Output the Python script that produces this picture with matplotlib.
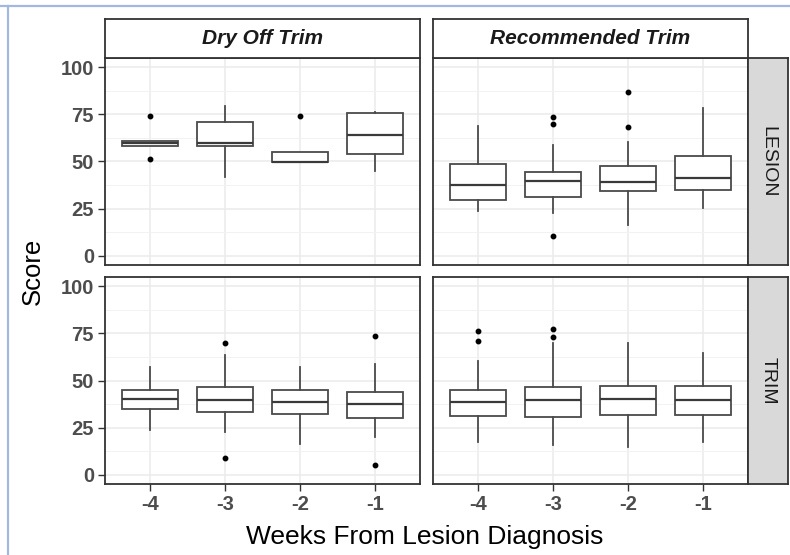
import matplotlib
matplotlib.use("Agg")
import matplotlib.pyplot as plt
from matplotlib.lines import Line2D

W, H = 790, 555
plt.rcParams['font.family'] = ['Liberation Sans', 'DejaVu Sans']

weeks = ["-4", "-3", "-2", "-1"]
trims = ["Dry Off Trim", "Recommended Trim"]
rows = ["LESION", "TRIM"]

# box stats: (row, trim)
dry_lesion_q1 = [58.5, 58.5, 49.5, 54.2]
dry_lesion_med = [59.8, 59.7, 49.8, 64.0]
dry_lesion_q3 = [61.0, 70.8, 55.3, 75.6]
dry_lesion_lo = [58.5, 41.9, 49.5, 45.1]
dry_lesion_hi = [61.0, 79.7, 55.3, 76.3]
dry_lesion_out = [[74.2, 51.5], [], [74.2], []]

rec_lesion_q1 = [29.8, 31.0, 34.4, 34.9]
rec_lesion_med = [37.4, 39.6, 39.2, 41.4]
rec_lesion_q3 = [48.7, 44.4, 47.6, 52.8]
rec_lesion_lo = [23.7, 22.6, 16.0, 25.5]
rec_lesion_hi = [68.6, 58.8, 60.1, 78.4]
rec_lesion_out = [[], [73.6, 69.9, 10.5], [87.0, 68.1], []]

dry_trim_q1 = [34.6, 33.3, 32.4, 30.0]
dry_trim_med = [40.1, 39.7, 38.8, 37.6]
dry_trim_q3 = [44.9, 46.5, 44.9, 43.8]
dry_trim_lo = [23.9, 22.7, 16.0, 20.0]
dry_trim_hi = [57.3, 63.5, 57.3, 59.0]
dry_trim_out = [[], [69.9, 8.9], [], [73.9, 5.0]]

rec_trim_q1 = [31.0, 30.5, 31.6, 31.9]
rec_trim_med = [38.5, 39.7, 40.1, 39.7]
rec_trim_q3 = [44.9, 46.6, 47.3, 47.3]
rec_trim_lo = [17.2, 15.8, 14.7, 17.2]
rec_trim_hi = [60.3, 69.7, 69.7, 64.4]
rec_trim_out = [[76.1, 70.9], [77.3, 73.2], [], []]

panels = {
    (0, 0): (dry_lesion_q1, dry_lesion_med, dry_lesion_q3, dry_lesion_lo, dry_lesion_hi, dry_lesion_out),
    (0, 1): (rec_lesion_q1, rec_lesion_med, rec_lesion_q3, rec_lesion_lo, rec_lesion_hi, rec_lesion_out),
    (1, 0): (dry_trim_q1, dry_trim_med, dry_trim_q3, dry_trim_lo, dry_trim_hi, dry_trim_out),
    (1, 1): (rec_trim_q1, rec_trim_med, rec_trim_q3, rec_trim_lo, rec_trim_hi, rec_trim_out),
}

y_ticks = [0, 25, 50, 75, 100]


def rect(x0, y0, x1, y1):
    return [x0 / W, 1 - y1 / H, (x1 - x0) / W, (y1 - y0) / H]


fig = plt.figure(figsize=(W / 100, H / 100), dpi=100)

col_x = [(105, 420), (433, 748)]
row_y = [(58, 265), (277, 484)]
dark = "#333333"
txt_gray = "#4D4D4D"

for (r, c), (q1, med, q3, lo, hi, out) in panels.items():
    x0, x1 = col_x[c]
    y0, y1 = row_y[r]
    ax = fig.add_axes(rect(x0, y0, x1, y1))
    stats = []
    for i in range(len(weeks)):
        stats.append(dict(q1=q1[i], med=med[i], q3=q3[i], whislo=lo[i], whishi=hi[i],
                          fliers=out[i], label=weeks[i]))
    ax.bxp(stats, positions=range(1, len(weeks) + 1), widths=0.75, patch_artist=True,
           showcaps=False,
           boxprops=dict(facecolor="white", edgecolor="#4a4a4a", linewidth=1.3),
           whiskerprops=dict(color="#4a4a4a", linewidth=1.3),
           medianprops=dict(color="#3a3a3a", linewidth=1.6),
           flierprops=dict(marker="o", markerfacecolor="black", markeredgecolor="black",
                           markersize=3.2), zorder=3)
    ax.set_xlim(0.4, 4.6)
    ax.set_ylim(-5, 105)
    ax.set_yticks(y_ticks)
    ax.set_yticks([12.5, 37.5, 62.5, 87.5], minor=True)
    ax.grid(which="major", color="#EBEBEB", linewidth=1.1, zorder=0)
    ax.grid(which="minor", axis="y", color="#F2F2F2", linewidth=0.7, zorder=0)
    ax.set_axisbelow(True)
    ax.tick_params(which="minor", length=0)
    ax.tick_params(which="major", length=5, width=1, color=dark,
                   labelsize=14.5, labelcolor=txt_gray, pad=3)
    for lab in ax.get_xticklabels() + ax.get_yticklabels():
        lab.set_fontweight("bold")
    if c == 1:
        ax.tick_params(axis="y", left=False, labelleft=False)
    if r == 0:
        ax.tick_params(axis="x", bottom=False, labelbottom=False)
    for sp in ax.spines.values():
        sp.set_color(dark)
        sp.set_linewidth(1.3)

# top strips
for c, name in enumerate(trims):
    x0, x1 = col_x[c]
    sa = fig.add_axes(rect(x0, 19, x1, 58))
    sa.set_facecolor("white")
    sa.set_xticks([])
    sa.set_yticks([])
    for sp in sa.spines.values():
        sp.set_color(dark)
        sp.set_linewidth(1.3)
    sa.text(0.5, 0.5, name, transform=sa.transAxes, ha="center", va="center",
            fontsize=15, fontweight="bold", fontstyle="italic", color="#1A1A1A")

# right strips
for r, name in enumerate(rows):
    y0, y1 = row_y[r]
    sa = fig.add_axes(rect(748, y0, 788, y1))
    sa.set_facecolor("#D9D9D9")
    sa.set_xticks([])
    sa.set_yticks([])
    for sp in sa.spines.values():
        sp.set_color(dark)
        sp.set_linewidth(1.3)
    sa.text(0.5, 0.5, name, transform=sa.transAxes, ha="center", va="center",
            fontsize=14, rotation=270, color="#1A1A1A")

fig.text(425 / W, 1 - 537 / H, "Weeks From Lesion Diagnosis", ha="center", va="center",
         fontsize=19, color="black")
fig.text(33 / W, 1 - 271 / H, "Score", ha="center", va="center", rotation=90,
         fontsize=18.5, color="black")

# light blue frame on top and left edges
fig.add_artist(Line2D([0, 1], [1 - 6 / H, 1 - 6 / H], color="#A3B8DE", linewidth=1.6))
fig.add_artist(Line2D([8 / W, 8 / W], [0, 1 - 6 / H], color="#A3B8DE", linewidth=1.6))

fig.savefig("out.png", dpi=100)
